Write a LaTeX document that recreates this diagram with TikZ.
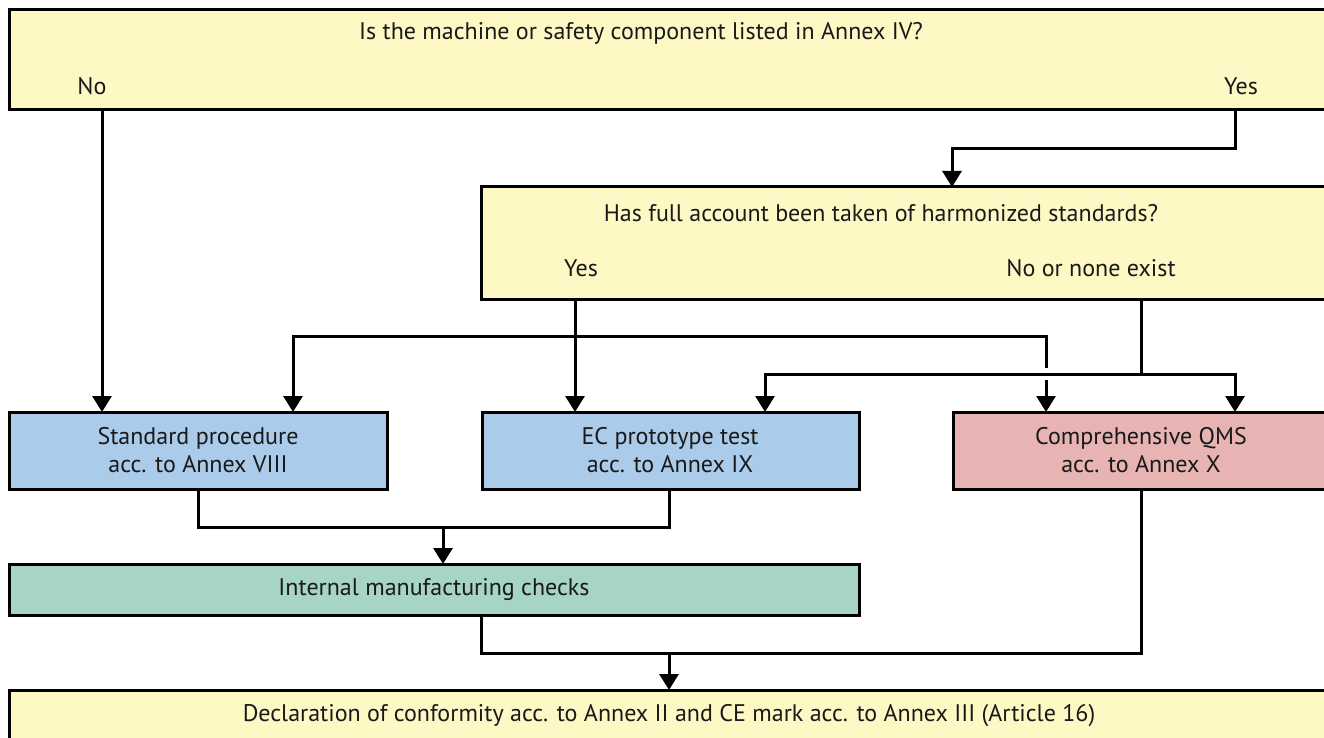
\documentclass[tikz,border=0pt]{standalone}
\usepackage{fontspec}
\setmainfont{PT Sans}
\usetikzlibrary{arrows.meta,calc}
\definecolor{cyellow}{HTML}{FEF8C4}
\definecolor{cblue}{HTML}{AACBE9}
\definecolor{cpink}{HTML}{E8B3B3}
\definecolor{cgreen}{HTML}{A6D5C4}
\tikzset{
  box/.style={draw=black, line width=3pt, rectangle, inner sep=0pt, outer sep=0pt, anchor=north west},
  lbl/.style={inner sep=0pt, font=\fontsize{24}{28}\selectfont, text=black!90},
  conn/.style={line width=3pt, draw=black},
  arr/.style={conn, -{Triangle[width=19pt,length=16pt]}},
}
\begin{document}
\begin{tikzpicture}[x=1pt,y=-1pt]
\useasboundingbox (0,0) rectangle (1324,738);
\clip (0,0) rectangle (1324,738);
% boxes
\node[box, fill=cyellow, minimum width=1340pt, minimum height=100pt] (top) at (9,10) {};
\node[box, fill=cyellow, minimum width=870pt, minimum height=112pt] (q2) at (481,187) {};
\node[box, fill=cblue, minimum width=378pt, minimum height=77pt] (std) at (9,412) {};
\node[box, fill=cblue, minimum width=377pt, minimum height=77pt] (ec) at (482,412) {};
\node[box, fill=cpink, minimum width=377pt, minimum height=77pt] (qms) at (953,412) {};
\node[box, fill=cgreen, minimum width=850pt, minimum height=51pt] (imc) at (9,564) {};
\node[box, fill=cyellow, minimum width=1340pt, minimum height=80pt] (decl) at (9,690) {};
% texts
\node[lbl] (t1) at (641,33) {Is the machine or safety component listed in Annex IV?};
\node[lbl] (t1no) at (92,86) {No};
\node[lbl] (t1yes) at (1241,86) {Yes};
\node[lbl] (t2) at (881,213) {Has full account been taken of harmonized standards?};
\node[lbl] (t2yes) at (581,268) {Yes};
\node[lbl] (t2no) at (1091,268) {No or none exist};
\node[lbl, align=center] (tstd) at (198,450) {Standard procedure\\acc. to Annex VIII};
\node[lbl, align=center] (tec) at (670,450) {EC prototype test\\acc. to Annex IX};
\node[lbl, align=center] (tqms) at (1141,450) {Comprehensive QMS\\acc. to Annex X};
\node[lbl] (timc) at (434,590) {Internal manufacturing checks};
\node[lbl] (tdecl) at (669,716) {Declaration of conformity acc. to Annex II and CE mark acc. to Annex III (Article 16)};
% connector coordinates
\coordinate (yesA) at ([xshift=1226pt]top.south west);
\coordinate (yesB) at ($(yesA)+(0,39)$);
\coordinate (q2in) at ([xshift=471pt]q2.north west);
\coordinate (q2yes) at ([xshift=94pt]q2.south west);
\coordinate (q2no) at ([xshift=660pt]q2.south west);
\coordinate (split) at (575,336);
\coordinate (nosplit) at (1141,374);
% connectors
\draw[arr] ([xshift=93pt]top.south west) -- ([xshift=93pt]std.north west);
\draw[arr] (yesA) -- (yesB) -| (q2in);
\draw[arr] (q2yes) -- ([xshift=93pt]ec.north west);
\draw[arr] (split) -| ([xshift=284pt]std.north west);
\draw[conn] (split) -| ($([xshift=93pt]qms.north west)+(0,-44)$);
\draw[arr] ($([xshift=93pt]qms.north west)+(0,-32)$) -- ([xshift=93pt]qms.north west);
\draw[conn] (q2no) -- (nosplit);
\draw[arr] (nosplit) -| ([xshift=283pt]ec.north west);
\draw[arr] (nosplit) -| ([xshift=282pt]qms.north west);
\draw[conn] ([xshift=189pt]std.south west) |- ($([xshift=187pt]ec.south west)+(0,38)$) -- ([xshift=187pt]ec.south west);
\draw[arr] ($([xshift=434pt]std.south west)+(0,38)$) -- ([xshift=434pt]imc.north west);
\draw[conn] ([xshift=472pt]imc.south west) |- ($([xshift=188pt]qms.south west)+(0,164)$) -- ([xshift=188pt]qms.south west);
\draw[arr] ($([xshift=660pt]imc.south west)+(0,38)$) -- ([xshift=660pt]decl.north west);
\end{tikzpicture}
\end{document}
